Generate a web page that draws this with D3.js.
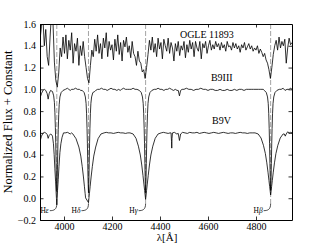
<!DOCTYPE html>
<html>
<head>
<meta charset="utf-8">
<script src="https://cdn.jsdelivr.net/npm/d3@7"></script>
<style>
  body { margin: 0; background: #fff; }
  text { font-family: "Liberation Serif", "DejaVu Serif", serif; }
</style>
</head>
<body>
<div id="plot"></div>
<script>
// spectra, [wavelength (A), normalized flux + offset]
const ogleSpec = [
  [3900,1.45],[3906,1.58],[3912,1.66],[3918,1.40],[3924,1.55],[3930,1.30],[3936,1.22],[3942,1.48],[3948,1.70],[3954,1.62],
  [3960,1.25],[3966,1.08],[3972,1.02],[3978,1.15],[3984,1.38],[3990,1.30],[3996,1.48],[4002,1.33],[4008,1.50],[4014,1.28],
  [4020,1.45],[4026,1.36],[4032,1.52],[4038,1.24],[4044,1.42],[4050,1.35],[4056,1.47],[4062,1.22],[4068,1.40],[4074,1.31],
  [4080,1.44],[4086,1.30],[4092,1.20],[4098,1.10],[4104,1.06],[4110,1.22],[4116,1.36],[4122,1.30],[4128,1.46],[4134,1.35],
  [4140,1.50],[4146,1.33],[4152,1.42],[4158,1.28],[4164,1.47],[4170,1.38],[4176,1.52],[4182,1.30],[4188,1.44],[4194,1.36],
  [4200,1.41],[4206,1.27],[4212,1.46],[4218,1.35],[4224,1.50],[4230,1.32],[4236,1.43],[4242,1.26],[4248,1.45],[4254,1.39],
  [4260,1.48],[4266,1.34],[4272,1.40],[4278,1.29],[4284,1.44],[4290,1.33],[4296,1.30],[4302,1.22],[4308,1.35],[4314,1.26],
  [4320,1.24],[4326,1.16],[4332,1.18],[4338,1.10],[4344,1.20],[4350,1.32],[4356,1.45],[4362,1.36],[4368,1.48],[4374,1.34],
  [4380,1.42],[4386,1.30],[4392,1.47],[4398,1.37],[4404,1.43],[4410,1.28],[4416,1.46],[4422,1.40],[4428,1.35],[4434,1.47],
  [4440,1.33],[4446,1.43],[4452,1.38],[4458,1.26],[4464,1.42],[4470,1.35],[4476,1.44],[4482,1.31],[4488,1.40],[4494,1.36],
  [4500,1.44],[4506,1.29],[4512,1.41],[4518,1.34],[4524,1.45],[4530,1.37],[4536,1.43],[4542,1.30],[4548,1.44],[4554,1.38],
  [4560,1.35],[4566,1.44],[4572,1.28],[4578,1.42],[4584,1.38],[4590,1.44],[4596,1.33],[4602,1.40],[4608,1.45],[4614,1.36],
  [4620,1.41],[4626,1.37],[4632,1.44],[4638,1.39],[4644,1.42],[4650,1.36],[4656,1.43],[4662,1.38],[4668,1.41],[4674,1.35],
  [4680,1.44],[4686,1.39],[4692,1.40],[4698,1.36],[4704,1.43],[4710,1.38],[4716,1.42],[4722,1.37],[4728,1.40],[4734,1.34],
  [4740,1.41],[4746,1.38],[4752,1.43],[4758,1.36],[4764,1.39],[4770,1.42],[4776,1.37],[4782,1.40],[4788,1.35],[4794,1.38],
  [4800,1.36],[4806,1.40],[4812,1.33],[4818,1.37],[4824,1.34],[4830,1.30],[4836,1.33],[4842,1.27],[4848,1.24],[4854,1.18],
  [4860,1.10],[4866,1.20],[4872,1.32],[4878,1.40],[4884,1.45],[4890,1.36],[4896,1.48],[4902,1.38],[4908,1.44],[4914,1.40],
  [4920,1.46],[4926,1.24],[4932,1.38],[4938,1.47],[4944,1.41],[4950,1.43]
];

const b9iiiSpec = [
  [3900,0.92],[3906,0.96],[3912,0.99],[3918,1.00],[3924,0.99],[3930,0.96],[3934,0.91],[3938,0.96],[3944,0.99],
  [3952,0.98],[3957,0.94],[3960,0.88],[3962,0.79],[3964,0.65],[3965.5,0.51],[3967,0.33],[3968.5,0.16],[3970,0.06],
  [3971.5,0.15],[3973,0.31],[3974.5,0.49],[3976,0.63],[3978,0.77],[3980,0.86],[3983,0.93],[3988,0.97],[3996,0.99],
  [4006,1.00],[4014,1.01],[4020,1.00],[4026,0.99],[4032,1.00],[4040,1.00],[4048,1.01],[4056,1.00],[4064,1.00],[4070,0.99],
  [4076,0.99],[4084,0.97],[4089,0.93],[4092,0.87],[4094,0.78],[4096,0.64],[4097.5,0.50],[4099,0.32],[4100.5,0.15],[4102,0.05],
  [4103.5,0.14],[4105,0.31],[4106.5,0.50],[4108,0.64],[4110,0.78],[4112,0.87],[4115,0.93],[4120,0.97],[4128,0.98],[4132,0.99],
  [4140,1.00],[4148,1.00],[4156,1.01],[4164,1.00],[4172,1.00],[4180,0.99],[4188,1.00],[4196,1.01],[4204,1.00],[4212,1.00],
  [4220,0.99],[4228,1.00],[4234,0.99],[4240,1.00],[4248,1.01],[4256,1.00],[4264,1.00],[4272,1.00],[4280,1.00],[4288,1.01],
  [4296,1.00],[4304,1.00],
  [4314,0.99],[4322,0.97],[4327,0.93],[4330,0.87],[4332,0.78],[4334,0.64],[4335.5,0.50],[4337,0.32],[4338.5,0.15],[4340,0.05],
  [4341.5,0.15],[4343,0.32],[4344.5,0.50],[4346,0.64],[4348,0.78],[4350,0.87],[4353,0.93],[4358,0.97],[4366,0.99],[4376,1.00],
  [4384,1.00],[4392,1.01],[4400,1.00],[4408,1.00],[4416,0.99],[4424,1.00],[4432,1.00],[4440,1.01],[4448,1.00],[4456,0.99],
  [4464,1.00],[4471,0.99],[4476,0.99],[4481,0.94],[4486,0.99],[4492,1.00],[4500,1.00],[4510,1.01],[4520,1.00],[4530,1.00],
  [4540,0.99],[4550,1.00],[4560,1.00],[4570,1.01],[4580,1.00],[4590,1.00],[4600,0.99],[4610,1.00],[4620,1.00],[4630,0.99],
  [4640,0.99],[4650,1.00],[4660,0.99],[4670,0.99],[4680,1.00],[4690,0.99],[4700,0.99],[4710,1.00],[4720,0.99],[4730,1.00],
  [4740,1.00],[4750,0.99],[4760,1.00],[4770,1.00],[4780,1.00],[4790,1.00],[4800,1.00],[4810,1.00],[4820,1.00],[4830,1.00],
  [4835,0.99],[4843,0.97],[4848,0.93],[4851,0.87],[4853,0.78],[4855,0.64],[4856.5,0.50],[4858,0.32],[4859.5,0.16],[4861,0.07],
  [4862.5,0.16],[4864,0.32],[4865.5,0.50],[4867,0.64],[4869,0.78],[4871,0.87],[4874,0.93],[4879,0.97],[4887,0.99],[4897,1.00],
  [4905,1.00],[4913,1.01],[4921,0.99],[4929,1.00],[4937,1.00],[4945,1.01],[4950,1.00]
];

const b9vSpec = [
  [3900,0.52],[3906,0.57],[3912,0.595],[3918,0.605],[3924,0.60],[3930,0.585],[3934,0.55],[3938,0.575],[3944,0.59],[3948,0.585],
  [3952,0.57],[3956,0.50],[3959,0.40],[3962,0.27],[3965,0.15],[3967,0.06],[3968.5,0.00],[3970,-0.06],
  [3971.5,0.00],[3973,0.07],[3976,0.17],[3979,0.29],[3983,0.42],[3987,0.50],[3992,0.56],[3998,0.60],
  [4005,0.60],[4015,0.605],[4026,0.59],[4032,0.60],
  [4037,0.59],[4050,0.547],[4062,0.47],[4070,0.387],[4076,0.29],[4081,0.195],[4085,0.11],[4088,0.045],[4090,0.003],[4102,-0.04],
  [4104,0.003],[4106,0.045],[4109,0.11],[4113,0.195],[4118,0.29],[4124,0.387],[4132,0.47],[4142,0.547],[4154,0.59],[4167,0.60],
  [4176,0.605],[4186,0.60],[4196,0.60],[4206,0.595],[4216,0.60],[4226,0.605],[4236,0.60],[4246,0.60],[4256,0.595],[4266,0.60],
  [4275,0.60],[4288,0.59],[4300,0.55],[4310,0.478],[4318,0.397],[4324,0.305],[4329,0.21],[4333,0.13],[4336,0.07],[4338,0.03],[4340,-0.01],
  [4342,0.03],[4344,0.07],[4347,0.13],[4351,0.21],[4356,0.305],[4362,0.397],[4370,0.478],[4380,0.55],[4392,0.59],[4405,0.60],
  [4414,0.605],[4424,0.60],[4434,0.595],[4442,0.60],[4446,0.60],[4448,0.52],[4449,0.46],[4450,0.55],[4452,0.60],[4460,0.605],
  [4470,0.59],[4476,0.595],[4481,0.53],[4486,0.59],[4494,0.605],[4504,0.60],[4514,0.595],[4524,0.605],[4534,0.60],[4544,0.60],
  [4554,0.605],[4564,0.595],[4574,0.60],[4584,0.605],[4594,0.60],[4604,0.595],[4614,0.60],[4624,0.605],[4634,0.60],[4644,0.595],
  [4654,0.60],[4664,0.605],[4674,0.60],[4684,0.595],[4694,0.60],[4704,0.60],[4714,0.595],[4724,0.60],[4734,0.605],[4744,0.60],
  [4754,0.60],[4764,0.595],[4774,0.60],[4784,0.60],
  [4796,0.60],[4809,0.59],[4821,0.553],[4831,0.486],[4839,0.41],[4845,0.325],[4850,0.239],[4854,0.163],[4857,0.106],[4859,0.068],[4861,0.03],
  [4863,0.068],[4865,0.106],[4868,0.163],[4872,0.239],[4877,0.325],[4883,0.41],[4891,0.486],[4901,0.553],[4913,0.59],
  [4918,0.59],[4922,0.57],[4926,0.59],[4932,0.61],[4938,0.60],[4944,0.605],[4950,0.60]
];

const seriesNames = ['OGLE 11893', 'B9III', 'B9V'];
const balmerWave = [3970, 4102, 4340, 4861];
const balmerGreek = ['\u03b5', '\u03b4', '\u03b3', '\u03b2'];
const xTicks = [4000, 4200, 4400, 4600, 4800];
const yTicks = [-0.2, 0.0, 0.2, 0.4, 0.6, 0.8, 1.0, 1.2, 1.4, 1.6];

const serif = '"Liberation Serif", "DejaVu Serif", serif';

// layout
const W = 325, H = 245;
const margin = { top: 24, right: 33, bottom: 25, left: 40 };
const width = W - margin.left - margin.right;
const height = H - margin.top - margin.bottom;

const svg = d3.select('#plot')
  .append('svg')
  .attr('width', W)
  .attr('height', H)
  .attr('xmlns', 'http://www.w3.org/2000/svg');

const g = svg.append('g')
  .attr('transform', `translate(${margin.left},${margin.top})`);

const x = d3.scaleLinear().domain([3900, 4950]).range([0, width]);
const y = d3.scaleLinear().domain([-0.2, 1.6]).range([height, 0]);

g.append('clipPath').attr('id', 'clip')
  .append('rect').attr('width', width).attr('height', height);

const plotArea = g.append('g').attr('clip-path', 'url(#clip)');

// dashed balmer markers
balmerWave.forEach((w) => {
  plotArea.append('line')
    .attr('x1', x(w)).attr('x2', x(w))
    .attr('y1', y(1.6)).attr('y2', y(-0.05))
    .attr('stroke', '#9a9a9a')
    .attr('stroke-width', 0.9)
    .attr('stroke-dasharray', '5,2');
});

// spectra
const line = d3.line().x((d) => x(d[0])).y((d) => y(d[1]));
[ogleSpec, b9iiiSpec, b9vSpec].forEach((s) => {
  plotArea.append('path')
    .datum(s)
    .attr('d', line)
    .attr('fill', 'none')
    .attr('stroke', '#000')
    .attr('stroke-width', 0.8)
    .attr('stroke-linejoin', 'round');
});

// series labels
const labelPos = [[4483, 1.467], [4612, 1.072], [4617, 0.682]];
seriesNames.forEach((n, i) => {
  g.append('text')
    .attr('x', x(labelPos[i][0]))
    .attr('y', y(labelPos[i][1]))
    .attr('font-family', serif)
    .style('font-size', '10px')
    .attr('fill', '#000')
    .text(n);
});

// balmer line names with little hook
balmerWave.forEach((w, i) => {
  const lx = x(w);
  const ly = y(-0.05);
  g.append('path')
    .attr('d', `M${lx - 7},${ly + 7} C${lx - 3},${ly + 7} ${lx},${ly + 6} ${lx},${ly}`)
    .attr('fill', 'none')
    .attr('stroke', '#000')
    .attr('stroke-width', 0.7);
  const t = g.append('text')
    .attr('x', lx - 8)
    .attr('y', ly + 9)
    .attr('text-anchor', 'end')
    .attr('font-family', serif)
    .style('font-size', '7.5px');
  t.append('tspan').text('H');
  t.append('tspan').style('font-style', 'italic').text(balmerGreek[i]);
});

// axes, ticks pointing inward on all four sides
const styleAxis = (sel) => {
  sel.attr('font-family', serif);
  sel.select('.domain').attr('stroke', '#000').attr('stroke-width', 1);
  sel.selectAll('.tick line').attr('stroke', '#000').attr('stroke-width', 0.8);
  sel.selectAll('.tick text')
    .style('font-family', serif)
    .style('font-size', '10px')
    .attr('fill', '#000');
};

g.append('g')
  .attr('transform', `translate(0,${height})`)
  .call(d3.axisBottom(x).tickValues(xTicks).tickSizeInner(-3.5).tickSizeOuter(0).tickPadding(3).tickFormat(d3.format('d')))
  .call(styleAxis);

g.append('g')
  .call(d3.axisTop(x).tickValues(xTicks).tickSizeInner(-3.5).tickSizeOuter(0).tickFormat(''))
  .call(styleAxis);

g.append('g')
  .call(d3.axisLeft(y).tickValues(yTicks).tickSizeInner(-3.5).tickSizeOuter(0).tickPadding(4).tickFormat(d3.format('.1f')))
  .call(styleAxis);

g.append('g')
  .attr('transform', `translate(${width},0)`)
  .call(d3.axisRight(y).tickValues(yTicks).tickSizeInner(-3.5).tickSizeOuter(0).tickFormat(''))
  .call(styleAxis);

// axis titles
svg.append('text')
  .attr('transform', 'translate(12,122) rotate(-90)')
  .attr('text-anchor', 'middle')
  .attr('font-family', serif)
  .style('font-size', '12.5px')
  .text('Normalized Flux + Constant');

svg.append('text')
  .attr('x', 167)
  .attr('y', 241)
  .attr('text-anchor', 'middle')
  .attr('font-family', serif)
  .style('font-size', '11px')
  .text('\u03bb[\u00c5]');
</script>
</body>
</html>
